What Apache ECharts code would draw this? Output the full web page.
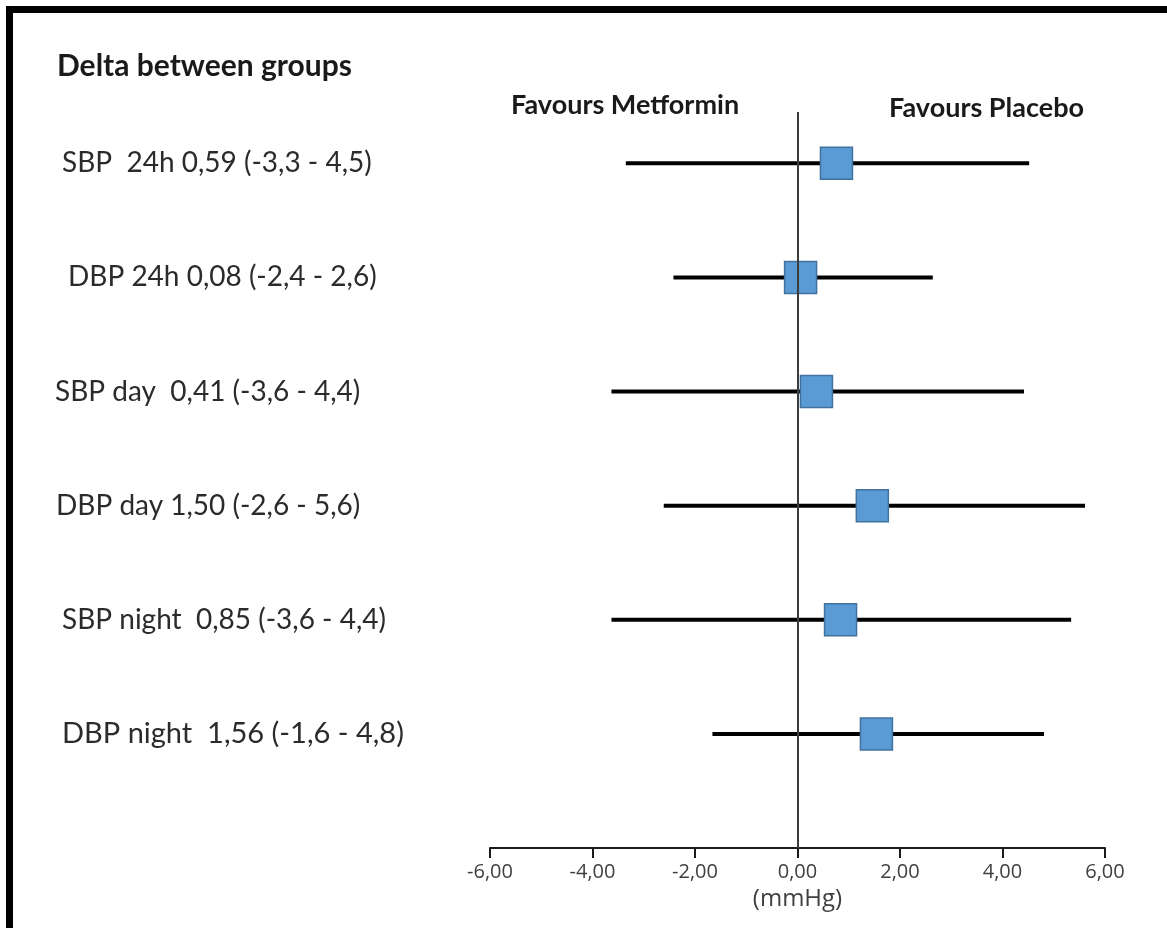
<!DOCTYPE html>
<html>
<head>
<meta charset="utf-8">
<style>
  html, body { margin: 0; padding: 0; background: #ffffff; }
  #chart { width: 1167px; height: 928px; }
</style>
<script src="https://cdn.jsdelivr.net/npm/echarts@6/dist/echarts.min.js"></script>
</head>
<body>
<div id="chart"></div>
<script>
// ---- data ----
const categories = [
  'SBP  24h 0,59 (-3,3 - 4,5)',
  'DBP 24h 0,08 (-2,4 - 2,6)',
  'SBP day  0,41 (-3,6 - 4,4)',
  'DBP day 1,50 (-2,6 - 5,6)',
  'SBP night  0,85 (-3,6 - 4,4)',
  'DBP night  1,56 (-1,6 - 4,8)'
];
const estimates = [0.76, 0.06, 0.37, 1.46, 0.84, 1.54];
const lowerCI  = [-3.35, -2.42, -3.63, -2.61, -3.63, -1.66];
const upperCI  = [4.52, 2.64, 4.42, 5.61, 5.34, 4.81];
const rowPositions = [6, 5, 4, 3, 2, 1];
const titleText = 'Delta between groups';
const leftHeader = 'Favours Metformin';
const rightHeader = 'Favours Placebo';
const xAxisName = '(mmHg)';

const ciData = rowPositions.map((p, i) => [lowerCI[i], upperCI[i], p]);
const pointData = rowPositions.map((p, i) => [estimates[i], p]);

// small per-row text indents seen in the reference (styling only)
const FONT = 'Lato, "Open Sans", sans-serif';
const TICKFONT = '"Open Sans", sans-serif';
const labelIndentStyle = [7, 13, 0, 1, 7, 7];
const rich = {};
labelIndentStyle.forEach((pad, i) => {
  rich['r' + i] = { padding: [0, 0, 0, pad], fontSize: i === 5 ? 29 : 28, fontFamily: FONT, color: '#2b2b2b' };
});

const chart = echarts.init(document.getElementById('chart'));
chart.setOption({
  backgroundColor: '#ffffff',
  animation: false,
  grid: { left: 490, right: 62, top: 112, bottom: 80, containLabel: false },
  xAxis: {
    type: 'value', min: -6, max: 6, interval: 2,
    axisLine: { show: true, lineStyle: { color: '#1a1a1a', width: 2 } },
    axisTick: { show: true, length: 10, lineStyle: { color: '#1a1a1a', width: 2 } },
    splitLine: { show: false },
    axisLabel: {
      color: '#404040', fontSize: 20, fontFamily: TICKFONT, margin: 14,
      formatter: v => v.toFixed(2).replace('.', ',')
    },
    name: xAxisName, nameLocation: 'middle', nameGap: 37,
    nameTextStyle: { color: '#404040', fontSize: 24, fontFamily: TICKFONT }
  },
  yAxis: {
    type: 'value', min: 0, max: 6.45, interval: 1,
    axisLine: { show: false }, axisTick: { show: false }, splitLine: { show: false },
    axisLabel: {
      align: 'left', margin: 435, color: '#2b2b2b', fontSize: 28, fontFamily: FONT,
      rich: rich,
      formatter: v => {
        if (!(Number.isInteger(v) && v >= 1 && v <= 6)) return '';
        const i = 6 - v;
        return '{r' + i + '|' + categories[i] + '}';
      }
    }
  },
  graphic: [
    { type: 'rect', shape: { x: 6, y: 6, width: 1161, height: 7 }, style: { fill: '#000' } },
    { type: 'rect', shape: { x: 6, y: 6, width: 7, height: 922 }, style: { fill: '#000' } },
    { type: 'text', left: 57, top: 51, style: { text: titleText, fill: '#1a1a1a', font: 'bold 30px ' + FONT } },
    { type: 'text', left: 511, top: 92, style: { text: leftHeader, fill: '#1a1a1a', font: 'bold 27px ' + FONT } },
    { type: 'text', left: 889, top: 95, style: { text: rightHeader, fill: '#1a1a1a', font: 'bold 27px ' + FONT } }
  ],
  series: [
    {
      type: 'custom',
      data: ciData,
      encode: { x: [0, 1], y: 2 },
      renderItem: (params, api) => {
        const a = api.coord([api.value(0), api.value(2)]);
        const b = api.coord([api.value(1), api.value(2)]);
        return { type: 'line', shape: { x1: a[0], y1: a[1], x2: b[0], y2: b[1] },
                 style: { stroke: '#000000', lineWidth: 4 } };
      },
      markLine: {
        silent: true, symbol: 'none', label: { show: false },
        lineStyle: { color: '#3c3c3c', width: 2, type: 'solid' },
        data: [{ xAxis: 0 }]
      },
      z: 2
    },
    {
      type: 'scatter',
      data: pointData,
      symbol: 'rect', symbolSize: 32,
      itemStyle: { color: '#5B9BD5', borderColor: '#41719C', borderWidth: 1.5, opacity: 1 },
      z: 3
    }
  ]
});
</script>
</body>
</html>
